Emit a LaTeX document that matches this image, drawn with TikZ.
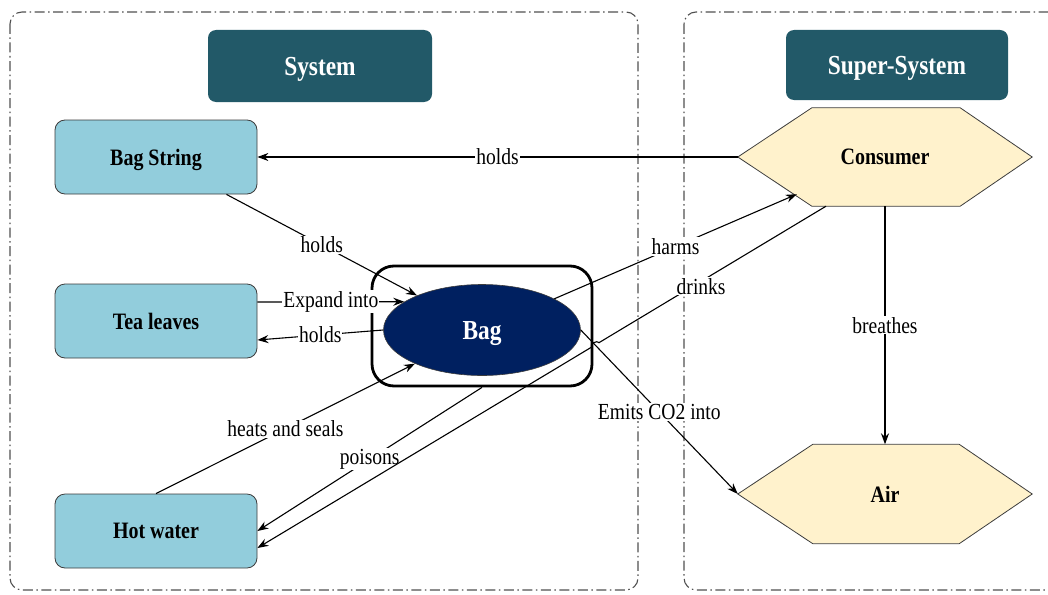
\documentclass[tikz,border=0pt]{standalone}
\usepackage{fontspec}
\setmainfont{Liberation Serif}[FakeStretch=0.85]
\usetikzlibrary{arrows.meta,calc,intersections,backgrounds,shapes.geometric}

\definecolor{headfill}{RGB}{34,89,104}
\definecolor{partfill}{RGB}{146,205,220}
\definecolor{bagfill}{RGB}{0,32,96}
\definecolor{superfill}{RGB}{255,242,204}
\definecolor{framegray}{RGB}{80,80,80}
\definecolor{edgegray}{RGB}{60,60,60}

\newcommand\labfont{\fontsize{23}{27}\selectfont}
\newcommand\partfont{\fontsize{23.5}{27}\selectfont\bfseries}
\newcommand\headfont{\fontsize{27.5}{32}\selectfont\bfseries}

\tikzset{
  container/.style={draw=framegray, line width=1.1pt,
    dash pattern=on 10pt off 3.5pt on 1.5pt off 3.5pt, rounded corners=12pt},
  header/.style={fill=headfill, rounded corners=8pt, text=white, font=\headfont,
    minimum width=224pt, minimum height=72pt, inner sep=0pt, text depth=0pt},
  part/.style={draw=edgegray, line width=0.8pt, fill=partfill, rounded corners=10pt,
    minimum width=202pt, minimum height=74pt, font=\partfont, inner sep=0pt,
    text depth=0pt},
  bagframe/.style={draw=black, line width=2.8pt, rounded corners=22pt,
    minimum width=220pt, minimum height=120pt, inner sep=0pt},
  bagnode/.style={ellipse, draw=edgegray, line width=0.6pt, fill=bagfill, text=white,
    font=\headfont, minimum width=197pt, minimum height=91pt, inner sep=0pt,
    text depth=0pt},
  hexnode/.style={minimum width=294pt, minimum height=98pt, inner sep=0pt,
    font=\partfont, text depth=0pt},
  hexfill/.style={fill=superfill, draw=edgegray, line width=0.8pt},
  link/.style={draw=black, line width=1.1pt, -{Stealth[length=11pt,width=8pt]}},
  lab/.style={fill=white, inner sep=1pt, font=\labfont},
}

\begin{document}
\begin{tikzpicture}[x=1pt, y=-1pt]
\useasboundingbox (0,0) rectangle (1048,594);
\clip (0,0) rectangle (1048,594);

% system and super-system frames
\draw[container] (10,12) rectangle (638,590);
\draw[container] (684,12) rectangle (1070,590);

% headers
\node[header] (sys) at (320,66) {System};
\node[header, minimum width=222pt, minimum height=70pt] (supsys) at (897,65) {Super-System};

% system components
\node[part] (string) at (156,157) {Bag String};
\node[part] (tea) at (156,321) {Tea leaves};
\node[part] (water) at (156,531) {Hot water};

% the bag, framed
\node[bagframe] (bagbox) at (482,326) {};
\node[bagnode] (bag) at (482,330) {Bag};

% super-system components (hexagons)
\node[hexnode] (cons) at (885,157) {Consumer};
\node[hexnode, minimum height=99pt] (air) at (885,494) {Air};
\begin{scope}[on background layer]
  \path[hexfill] (cons.west) -- ($(cons.north west)+(74,0)$) -- ($(cons.north east)+(-72,0)$)
    -- (cons.east) -- ($(cons.south east)+(-72,0)$) -- ($(cons.south west)+(74,0)$) -- cycle;
  \path[hexfill] (air.west) -- ($(air.north west)+(75,0)$) -- ($(air.north east)+(-73,0)$)
    -- (air.east) -- ($(air.south east)+(-73,0)$) -- ($(air.south west)+(75,0)$) -- cycle;
\end{scope}

% helper points on node borders
\coordinate (harmend) at ($(cons.south west)+(59,-12)$);
\coordinate (drinkstart) at ($(cons.south)+(-59,0)$);
\coordinate (drinkend) at ($(water.east)+(0,17)$);

% crossing of the two long links, where "drinks" hops over
\path[name path=emitline] (bag.east) -- (air.west);
\path[name path=drinkline] (drinkstart) -- (drinkend);
\path[name intersections={of=emitline and drinkline, by=hop}];

% links
\draw[link] (cons.west) -- node[lab]{holds} (string.east);
\draw[link] (string) -- node[lab]{holds} (bag);
\draw[link] ($(tea.east)+(0,-19)$) -- node[lab]{Expand into} (bag.160);
\draw[link] (bag.west) -- node[lab]{holds} ($(tea.east)+(0,19)$);
\draw[link] (water.north) -- node[lab]{heats and seals} (bag);
\draw[link] (bagbox.south) -- node[lab]{poisons} (water.east);
\draw[link] (bag) -- node[lab]{harms} (harmend);
\draw[link] (drinkstart) -- node[lab, pos=0.55, yshift=-5pt]{drinks} ($(hop)!4.5pt!(drinkstart)$)
  to[bend right=90] ($(hop)!4.5pt!(drinkend)$) -- (drinkend);
\draw[link] (bag.east) -- node[lab]{Emits CO2 into} (air.west);
\draw[link] (cons.south) -- node[lab]{breathes} (air.north);
\end{tikzpicture}
\end{document}
